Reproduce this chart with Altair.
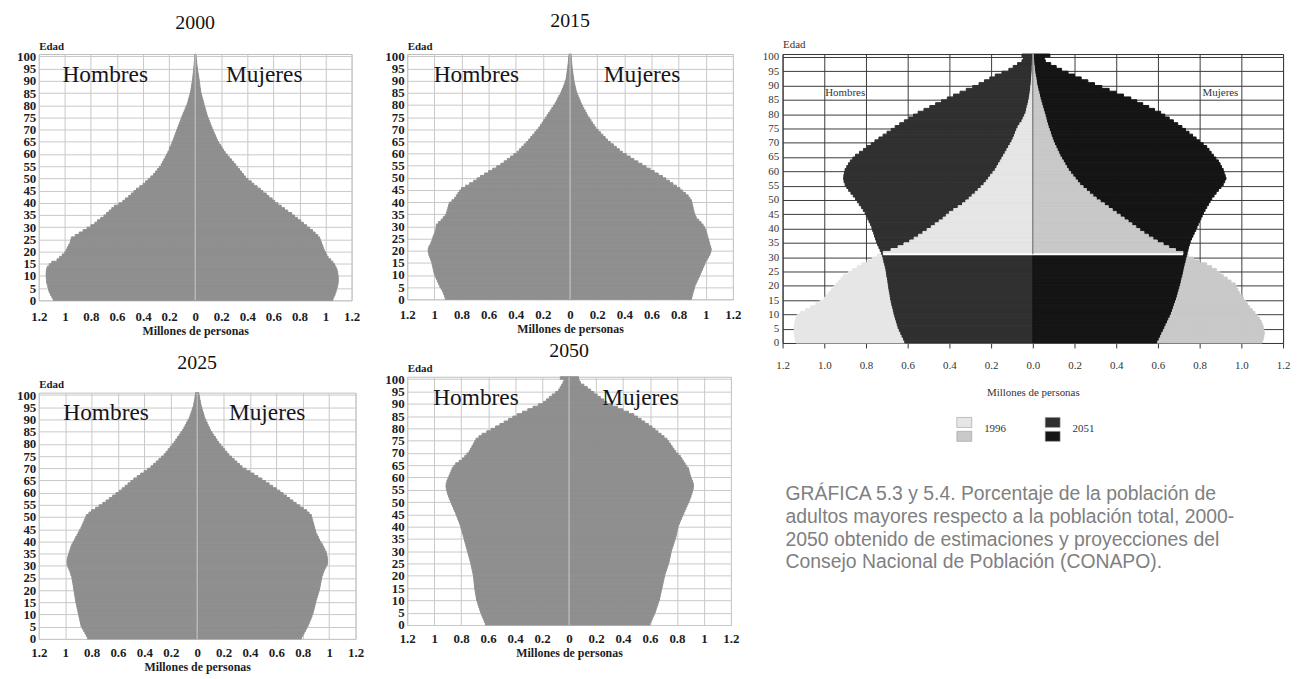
import altair as alt
import pandas as pd

EDADES = list(range(101))

H2000 = [1.09, 1.10, 1.11, 1.12, 1.125, 1.13, 1.135, 1.14, 1.14, 1.143,
         1.143, 1.143, 1.14, 1.135, 1.12, 1.10, 1.06, 1.04, 1.02, 1.00,
         0.99, 0.98, 0.97, 0.96, 0.955, 0.95, 0.92, 0.89, 0.86, 0.83,
         0.80, 0.77, 0.75, 0.725, 0.70, 0.68, 0.66, 0.64, 0.62, 0.585,
         0.555, 0.535, 0.51, 0.49, 0.47, 0.45, 0.425, 0.40, 0.38, 0.36,
         0.34, 0.32, 0.305, 0.29, 0.275, 0.26, 0.25, 0.24, 0.23, 0.22,
         0.21, 0.20, 0.195, 0.185, 0.178, 0.17, 0.163, 0.156, 0.149, 0.142,
         0.135, 0.128, 0.121, 0.114, 0.107, 0.10, 0.092, 0.084, 0.076, 0.068,
         0.06, 0.055, 0.05, 0.045, 0.04, 0.035, 0.032, 0.029, 0.026, 0.023,
         0.02, 0.018, 0.016, 0.014, 0.012, 0.01, 0.008, 0.007, 0.005, 0.004,
         0.003]
M2000 = [1.057, 1.065, 1.073, 1.08, 1.085, 1.09, 1.095, 1.097, 1.098, 1.097,
         1.095, 1.093, 1.088, 1.08, 1.07, 1.057, 1.04, 1.02, 1.01, 1.00,
         0.99, 0.983, 0.976, 0.969, 0.962, 0.955, 0.94, 0.92, 0.90, 0.878,
         0.855, 0.83, 0.81, 0.785, 0.762, 0.74, 0.71, 0.685, 0.66, 0.635,
         0.61, 0.59, 0.565, 0.545, 0.52, 0.50, 0.475, 0.45, 0.43, 0.405,
         0.385, 0.37, 0.355, 0.34, 0.325, 0.31, 0.295, 0.278, 0.262, 0.246,
         0.23, 0.218, 0.206, 0.194, 0.182, 0.17, 0.162, 0.154, 0.146, 0.138,
         0.13, 0.122, 0.115, 0.108, 0.10, 0.093, 0.088, 0.083, 0.077, 0.072,
         0.067, 0.062, 0.057, 0.052, 0.047, 0.042, 0.04, 0.037, 0.035, 0.032,
         0.03, 0.027, 0.024, 0.021, 0.018, 0.016, 0.013, 0.011, 0.009, 0.007,
         0.005]

H2015 = [0.92, 0.925, 0.932, 0.94, 0.95, 0.96, 0.968, 0.976, 0.984, 0.992,
         1.0, 1.004, 1.008, 1.012, 1.016, 1.02, 1.027, 1.034, 1.04, 1.044,
         1.045, 1.04, 1.03, 1.023, 1.016, 1.01, 1.003, 0.996, 0.99, 0.987,
         0.985, 0.97, 0.95, 0.935, 0.92, 0.91, 0.905, 0.90, 0.895, 0.89,
         0.87, 0.85, 0.838, 0.826, 0.813, 0.80, 0.77, 0.74, 0.71, 0.685,
         0.66, 0.63, 0.60, 0.57, 0.54, 0.51, 0.486, 0.462, 0.438, 0.414,
         0.39, 0.373, 0.356, 0.339, 0.322, 0.305, 0.29, 0.275, 0.26, 0.245,
         0.23, 0.218, 0.206, 0.194, 0.182, 0.17, 0.158, 0.146, 0.134, 0.122,
         0.11, 0.10, 0.091, 0.082, 0.072, 0.063, 0.056, 0.049, 0.042, 0.036,
         0.03, 0.027, 0.024, 0.022, 0.019, 0.017, 0.015, 0.013, 0.011, 0.01,
         0.008]
M2015 = [0.895, 0.90, 0.905, 0.91, 0.915, 0.92, 0.928, 0.936, 0.944, 0.952,
         0.96, 0.968, 0.976, 0.984, 0.992, 1.0, 1.01, 1.02, 1.03, 1.036,
         1.04, 1.036, 1.03, 1.025, 1.02, 1.015, 1.01, 1.005, 1.0, 0.99,
         0.98, 0.965, 0.948, 0.93, 0.922, 0.915, 0.911, 0.907, 0.903, 0.899,
         0.895, 0.883, 0.87, 0.85, 0.83, 0.81, 0.784, 0.758, 0.732, 0.706,
         0.68, 0.65, 0.62, 0.59, 0.56, 0.53, 0.50, 0.47, 0.443, 0.414,
         0.385, 0.363, 0.341, 0.319, 0.297, 0.276, 0.259, 0.242, 0.224, 0.207,
         0.19, 0.178, 0.166, 0.154, 0.142, 0.13, 0.12, 0.111, 0.101, 0.092,
         0.082, 0.075, 0.068, 0.06, 0.053, 0.046, 0.042, 0.038, 0.034, 0.03,
         0.027, 0.025, 0.022, 0.02, 0.017, 0.015, 0.013, 0.012, 0.01, 0.009,
         0.008]

H2025 = [0.83, 0.84, 0.85, 0.86, 0.87, 0.88, 0.884, 0.888, 0.892, 0.896,
         0.90, 0.904, 0.908, 0.912, 0.916, 0.92, 0.923, 0.926, 0.929, 0.932,
         0.935, 0.938, 0.941, 0.944, 0.947, 0.95, 0.957, 0.963, 0.97, 0.978,
         0.985, 0.986, 0.985, 0.98, 0.975, 0.97, 0.963, 0.957, 0.95, 0.94,
         0.93, 0.92, 0.91, 0.90, 0.89, 0.88, 0.872, 0.864, 0.856, 0.848,
         0.84, 0.82, 0.80, 0.77, 0.743, 0.715, 0.69, 0.665, 0.64, 0.615,
         0.59, 0.568, 0.546, 0.524, 0.502, 0.48, 0.454, 0.428, 0.402, 0.376,
         0.35, 0.33, 0.31, 0.29, 0.27, 0.25, 0.235, 0.22, 0.205, 0.19,
         0.175, 0.162, 0.149, 0.136, 0.123, 0.11, 0.10, 0.09, 0.08, 0.07,
         0.06, 0.053, 0.047, 0.04, 0.034, 0.028, 0.025, 0.021, 0.018, 0.015,
         0.012]
M2025 = [0.79, 0.80, 0.81, 0.82, 0.83, 0.84, 0.848, 0.855, 0.863, 0.87,
         0.877, 0.882, 0.886, 0.891, 0.895, 0.90, 0.905, 0.911, 0.916, 0.922,
         0.927, 0.931, 0.934, 0.938, 0.941, 0.945, 0.952, 0.958, 0.965, 0.975,
         0.985, 0.988, 0.988, 0.985, 0.981, 0.977, 0.968, 0.959, 0.95, 0.938,
         0.927, 0.918, 0.909, 0.90, 0.895, 0.89, 0.885, 0.88, 0.875, 0.87,
         0.865, 0.848, 0.83, 0.803, 0.777, 0.75, 0.725, 0.70, 0.676, 0.651,
         0.627, 0.60, 0.572, 0.545, 0.517, 0.49, 0.46, 0.43, 0.40, 0.37,
         0.34, 0.32, 0.30, 0.28, 0.26, 0.24, 0.225, 0.209, 0.194, 0.178,
         0.163, 0.15, 0.138, 0.125, 0.113, 0.10, 0.092, 0.083, 0.075, 0.066,
         0.058, 0.052, 0.047, 0.041, 0.036, 0.03, 0.026, 0.023, 0.019, 0.016,
         0.012]

H2050 = [0.62, 0.628, 0.635, 0.643, 0.65, 0.657, 0.663, 0.669, 0.675, 0.68,
         0.686, 0.689, 0.692, 0.695, 0.698, 0.70, 0.702, 0.704, 0.706, 0.708,
         0.71, 0.714, 0.718, 0.722, 0.726, 0.73, 0.735, 0.74, 0.745, 0.75,
         0.755, 0.76, 0.765, 0.77, 0.775, 0.78, 0.785, 0.79, 0.795, 0.80,
         0.805, 0.812, 0.819, 0.826, 0.833, 0.84, 0.848, 0.856, 0.864, 0.872,
         0.88, 0.887, 0.894, 0.90, 0.905, 0.91, 0.912, 0.91, 0.905, 0.898,
         0.89, 0.882, 0.875, 0.867, 0.855, 0.84, 0.815, 0.79, 0.773, 0.757,
         0.74, 0.73, 0.72, 0.71, 0.70, 0.69, 0.668, 0.645, 0.61, 0.578,
         0.545, 0.513, 0.481, 0.449, 0.417, 0.385, 0.345, 0.306, 0.267, 0.228,
         0.19, 0.168, 0.146, 0.125, 0.10, 0.077, 0.066, 0.055, 0.045, 0.038,
         0.065]
M2050 = [0.60, 0.608, 0.616, 0.624, 0.632, 0.64, 0.646, 0.652, 0.658, 0.664,
         0.67, 0.674, 0.678, 0.682, 0.686, 0.69, 0.694, 0.698, 0.702, 0.706,
         0.71, 0.716, 0.722, 0.728, 0.734, 0.74, 0.744, 0.748, 0.752, 0.756,
         0.76, 0.766, 0.772, 0.778, 0.784, 0.79, 0.794, 0.798, 0.802, 0.806,
         0.81, 0.818, 0.826, 0.834, 0.842, 0.85, 0.858, 0.866, 0.874, 0.882,
         0.89, 0.897, 0.904, 0.91, 0.915, 0.92, 0.922, 0.92, 0.914, 0.907,
         0.90, 0.895, 0.89, 0.886, 0.873, 0.86, 0.848, 0.837, 0.825, 0.808,
         0.79, 0.777, 0.764, 0.752, 0.739, 0.726, 0.704, 0.682, 0.659, 0.637,
         0.615, 0.588, 0.561, 0.534, 0.507, 0.48, 0.44, 0.40, 0.36, 0.32,
         0.28, 0.256, 0.232, 0.208, 0.184, 0.16, 0.135, 0.11, 0.085, 0.075,
         0.07]

H1996 = [1.136, 1.14, 1.142, 1.144, 1.144, 1.144, 1.143, 1.14, 1.136, 1.13,
         1.115, 1.09, 1.065, 1.04, 1.02, 1.0, 0.99, 0.978, 0.966, 0.955,
         0.943, 0.931, 0.919, 0.907, 0.885, 0.864, 0.842, 0.82, 0.795, 0.77,
         0.745, 0.717, 0.68, 0.646, 0.618, 0.59, 0.569, 0.548, 0.527, 0.507,
         0.487, 0.468, 0.449, 0.43, 0.415, 0.40, 0.379, 0.358, 0.337, 0.321,
         0.305, 0.291, 0.276, 0.262, 0.248, 0.234, 0.223, 0.212, 0.202, 0.191,
         0.18, 0.172, 0.164, 0.156, 0.148, 0.14, 0.132, 0.124, 0.116, 0.108,
         0.10, 0.094, 0.088, 0.083, 0.077, 0.071, 0.062, 0.052, 0.046, 0.039,
         0.033, 0.03, 0.027, 0.023, 0.02, 0.017, 0.015, 0.013, 0.011, 0.01,
         0.008, 0.007, 0.006, 0.005, 0.004, 0.003, 0.003, 0.002, 0.002, 0.001,
         0.001]
M1996 = [1.10, 1.105, 1.108, 1.11, 1.108, 1.105, 1.10, 1.095, 1.087, 1.076,
         1.065, 1.052, 1.04, 1.03, 1.02, 1.01, 1.0, 0.99, 0.983, 0.977,
         0.97, 0.95, 0.932, 0.913, 0.897, 0.88, 0.857, 0.834, 0.80, 0.77,
         0.745, 0.72, 0.684, 0.652, 0.625, 0.597, 0.576, 0.554, 0.533, 0.513,
         0.494, 0.475, 0.457, 0.438, 0.419, 0.40, 0.381, 0.362, 0.343, 0.323,
         0.304, 0.288, 0.272, 0.257, 0.241, 0.225, 0.214, 0.203, 0.192, 0.181,
         0.17, 0.162, 0.154, 0.146, 0.138, 0.13, 0.124, 0.117, 0.111, 0.104,
         0.098, 0.093, 0.088, 0.084, 0.079, 0.074, 0.07, 0.066, 0.063, 0.059,
         0.055, 0.051, 0.047, 0.043, 0.039, 0.035, 0.032, 0.029, 0.025, 0.022,
         0.019, 0.017, 0.015, 0.012, 0.01, 0.008, 0.007, 0.005, 0.004, 0.003,
         0.002]

H2051 = [0.614, 0.62, 0.627, 0.633, 0.64, 0.646, 0.65, 0.654, 0.658, 0.662,
         0.666, 0.669, 0.672, 0.676, 0.679, 0.682, 0.684, 0.686, 0.689, 0.691,
         0.693, 0.695, 0.697, 0.70, 0.702, 0.704, 0.707, 0.71, 0.714, 0.717,
         0.72, 0.726, 0.732, 0.738, 0.744, 0.75, 0.754, 0.759, 0.763, 0.768,
         0.772, 0.778, 0.785, 0.791, 0.798, 0.804, 0.813, 0.822, 0.832, 0.841,
         0.85, 0.861, 0.872, 0.883, 0.892, 0.90, 0.905, 0.907, 0.906, 0.903,
         0.90, 0.892, 0.884, 0.875, 0.863, 0.85, 0.831, 0.812, 0.794, 0.775,
         0.757, 0.738, 0.718, 0.699, 0.679, 0.66, 0.638, 0.616, 0.594, 0.572,
         0.55, 0.522, 0.494, 0.466, 0.438, 0.41, 0.38, 0.349, 0.319, 0.288,
         0.258, 0.232, 0.206, 0.18, 0.148, 0.115, 0.094, 0.073, 0.052, 0.045,
         0.052]
M2051 = [0.594, 0.601, 0.608, 0.614, 0.621, 0.628, 0.634, 0.641, 0.647, 0.654,
         0.66, 0.665, 0.67, 0.674, 0.679, 0.684, 0.688, 0.692, 0.696, 0.70,
         0.704, 0.707, 0.71, 0.714, 0.717, 0.72, 0.723, 0.726, 0.73, 0.733,
         0.736, 0.74, 0.744, 0.747, 0.751, 0.755, 0.761, 0.768, 0.774, 0.781,
         0.787, 0.793, 0.799, 0.806, 0.812, 0.818, 0.826, 0.834, 0.842, 0.85,
         0.858, 0.869, 0.879, 0.89, 0.902, 0.913, 0.92, 0.926, 0.922, 0.917,
         0.913, 0.905, 0.898, 0.89, 0.878, 0.866, 0.855, 0.845, 0.834, 0.817,
         0.80, 0.783, 0.766, 0.749, 0.732, 0.715, 0.695, 0.674, 0.654, 0.633,
         0.613, 0.584, 0.556, 0.527, 0.499, 0.47, 0.435, 0.40, 0.366, 0.331,
         0.296, 0.264, 0.232, 0.20, 0.169, 0.138, 0.112, 0.086, 0.06, 0.055,
         0.082]

EJE_X = [-1.2, -1.0, -0.8, -0.6, -0.4, -0.2, 0.0, 0.2, 0.4, 0.6, 0.8, 1.0, 1.2]
EJE_Y = [0, 5, 10, 15, 20, 25, 30, 35, 40, 45, 50, 55, 60, 65, 70, 75, 80,
         85, 90, 95, 100]

LEYENDA_ANIOS = ["1996", "1996", "2051", "2051"]
LEYENDA_FILAS = [0, 1, 0, 1]
LEYENDA_CLAVES = ["H1996", "M1996", "H2051", "M2051"]
COLORES = ["#e6e6e6", "#c9c9c9", "#303030", "#151515"]

NOTA = ["GRÁFICA 5.3 y 5.4. Porcentaje de la población de",
        "adultos mayores respecto a la población total, 2000-",
        "2050 obtenido de estimaciones y proyecciones del",
        "Consejo Nacional de Población (CONAPO)."]

SERIF = "Liberation Serif"
SANS = "Liberation Sans"
UNO = pd.DataFrame({"k": [0]})
ESC_X = alt.Scale(domain=[-1.2, 1.2], nice=False, zero=False)
ESC_Y = alt.Scale(domain=[0, 101], nice=False, zero=False)


def tabla(hombres, mujeres, clave_h="Hombres", clave_m="Mujeres"):
    return pd.DataFrame({
        "edad": EDADES + EDADES,
        "sexo": [clave_h] * len(EDADES) + [clave_m] * len(EDADES),
        "valor": [-v for v in hombres] + list(mujeres),
    })


def piramide(anio, hombres, mujeres, ancho, alto, t_off, lab_pad):
    eje_x = alt.Axis(values=EJE_X, labelExpr="format(abs(datum.value), '~g')",
                     labelOverlap=False,
                     title="Millones de personas", grid=True, gridColor="#c9c9c9",
                     ticks=False, domain=False, labelFlush=False,
                     labelFont=SERIF, labelFontWeight="bold", labelFontSize=13,
                     labelColor="#1c1c24", labelPadding=lab_pad,
                     titleFont=SERIF, titleFontWeight="bold", titleFontSize=12,
                     titleColor="#1c1c24", titlePadding=2)
    eje_y = alt.Axis(values=EJE_Y, labelOverlap=False, grid=True, gridColor="#c9c9c9",
                     ticks=False, domain=False, labelFlush=False,
                     labelFont=SERIF, labelFontWeight="bold", labelFontSize=13,
                     labelColor="#1c1c24", labelPadding=3,
                     title="Edad", titleAngle=0, titleAlign="left", titleBaseline="bottom",
                     titleX=0, titleY=-3, titleFont=SERIF, titleFontWeight="bold",
                     titleFontSize=11, titleColor="#1c1c24")
    barras = alt.Chart(tabla(hombres, mujeres)).transform_calculate(
        cero="0", edad2="datum.edad + 1"
    ).mark_rect(color="#8f8f8f", stroke="#8f8f8f", strokeWidth=1).encode(
        x=alt.X("valor:Q", scale=ESC_X, axis=eje_x),
        x2="cero:Q",
        y=alt.Y("edad:Q", scale=ESC_Y, axis=eje_y),
        y2="edad2:Q",
    )
    centro = alt.Chart(UNO).mark_rule(color="#c2c2c2", strokeWidth=1.2).encode(
        x=alt.XDatum(0, type="quantitative", scale=ESC_X, axis=eje_x),
        y=alt.YDatum(0, type="quantitative", scale=ESC_Y, axis=eje_y),
        y2=alt.Y2Datum(101))
    t_h = alt.Chart(UNO).mark_text(text="Hombres", font=SERIF, fontSize=23.5, color="#15151c").encode(
        x=alt.XDatum(-0.69, type="quantitative", scale=ESC_X, axis=eje_x),
        y=alt.YDatum(92.5, type="quantitative", scale=ESC_Y, axis=eje_y))
    t_m = alt.Chart(UNO).mark_text(text="Mujeres", font=SERIF, fontSize=23.5, color="#15151c").encode(
        x=alt.XDatum(0.53, type="quantitative", scale=ESC_X, axis=eje_x),
        y=alt.YDatum(92.5, type="quantitative", scale=ESC_Y, axis=eje_y))
    return alt.layer(barras, centro, t_h, t_m).properties(
        width=ancho, height=alto,
        title=alt.TitleParams(text=anio, font=SERIF, fontSize=20, fontWeight="normal",
                              color="#111111", offset=t_off, anchor="middle"),
        view=alt.ViewBackground(stroke="#bdbdbd"),
    )


p2000 = piramide("2000", H2000, M2000, 315, 248, 7, 10)
p2015 = piramide("2015", H2015, M2015, 328, 247, 9, 9)
p2025 = piramide("2025", H2025, M2025, 319, 248, 6, 8)
p2050 = piramide("2050", H2050, M2050, 326, 250, 2, 8)

# Big comparative pyramid 1996 / 2051
d96 = tabla(H1996, M1996, "H1996", "M1996")
d51 = tabla(H2051, M2051, "H2051", "M2051")
color = alt.Color("sexo:N", scale=alt.Scale(domain=LEYENDA_CLAVES, range=COLORES), legend=None)

eje_xg = alt.Axis(values=EJE_X, labelExpr="format(abs(datum.value), '.1f')", labelOverlap=False,
                  title="Millones de personas", grid=True, gridColor="#3a3a3a", gridOpacity=1,
                  ticks=True, tickColor="#333333", tickSize=5, domain=False, labelFlush=False,
                  labelFont=SERIF, labelFontSize=11, labelColor="#333333", labelPadding=12,
                  titleFont=SERIF, titleFontSize=11, titleFontWeight="normal",
                  titleColor="#333333", titlePadding=16)
eje_yg = alt.Axis(values=EJE_Y, labelOverlap=False, grid=True, gridColor="#3a3a3a", gridOpacity=1,
                  ticks=False, domain=False, labelFlush=False,
                  labelFont=SERIF, labelFontSize=11, labelColor="#333333", labelPadding=4,
                  title="Edad", titleAngle=0, titleAlign="left", titleBaseline="bottom",
                  titleX=0, titleY=-5, titleFont=SERIF, titleFontWeight="normal",
                  titleFontSize=11, titleColor="#333333")


def capa(df, filtro=None):
    c = alt.Chart(df).transform_calculate(cero="0", edad2="datum.edad + 1")
    if filtro:
        c = c.transform_filter(filtro)
    return c.mark_rect(strokeWidth=1).encode(
        x=alt.X("valor:Q", scale=ESC_X, axis=eje_xg),
        x2="cero:Q",
        y=alt.Y("edad:Q", scale=ESC_Y, axis=eje_yg),
        y2="edad2:Q",
        color=color,
        stroke=color,
    )


def gx(v):
    return alt.XDatum(v, type="quantitative", scale=ESC_X, axis=eje_xg)


def gy(v):
    return alt.YDatum(v, type="quantitative", scale=ESC_Y, axis=eje_yg)


linea_blanca = alt.Chart(UNO).mark_rule(color="white", strokeWidth=2).encode(
    x=gx(-H1996[31]), x2=alt.X2Datum(M1996[31]), y=gy(31))
eje_central = alt.Chart(UNO).mark_rule(color="#6a6a6a", strokeWidth=1).encode(
    x=gx(0), y=gy(31), y2=alt.Y2Datum(101))
g_h = alt.Chart(UNO).mark_text(text="Hombres", font=SERIF, fontSize=11, color="#333333").encode(
    x=gx(-0.90), y=gy(87.5))
g_m = alt.Chart(UNO).mark_text(text="Mujeres", font=SERIF, fontSize=11, color="#333333").encode(
    x=gx(0.90), y=gy(87.5))

grande = alt.layer(
    capa(d96), capa(d51), capa(d96, "datum.edad > 30"), linea_blanca, eje_central, g_h, g_m
).properties(
    width=504, height=291,
    view=alt.ViewBackground(stroke="#333333"),
)

ley = pd.DataFrame({"anio": LEYENDA_ANIOS, "fila": LEYENDA_FILAS, "sexo": LEYENDA_CLAVES})
ESC_LX = alt.Scale(domain=[-2.056, 3.056], nice=False, zero=False)
ESC_LY = alt.Scale(domain=[-0.5, 1.5], reverse=True, nice=False, zero=False)
cuadros = alt.Chart(ley).transform_calculate(
    pos="datum.anio == '1996' ? 0 : 1"
).mark_point(
    shape="M-1,-0.67L1,-0.67L1,0.67L-1,0.67Z", filled=True, size=225, opacity=1,
    stroke="#9a9a9a", strokeWidth=0.6
).encode(x=alt.X("pos:Q", scale=ESC_LX, axis=None),
         y=alt.Y("fila:Q", scale=ESC_LY, axis=None), fill=color)
textos = alt.Chart(pd.DataFrame({"anio": ["1996", "2051"]})).transform_calculate(
    pos="datum.anio == '1996' ? 0 : 1"
).mark_text(
    align="left", dx=20, font=SERIF, fontSize=11, color="#333333"
).encode(x=alt.X("pos:Q", scale=ESC_LX, axis=None),
         y=alt.YDatum(0.5, type="quantitative", scale=ESC_LY, axis=None), text="anio:N")

leyenda = alt.layer(cuadros, textos).properties(
    width=455, height=28,
    view=alt.ViewBackground(stroke="transparent"),
    title=alt.TitleParams(text=NOTA, orient="bottom", anchor="start", font=SANS, fontSize=19.5,
                          fontWeight="normal", color="#808080", lineHeight=23, offset=42, dx=3),
)

col1 = alt.vconcat(p2000, p2025, spacing=15)
col2 = alt.vconcat(p2015, p2050, spacing=5)
col3 = alt.vconcat(grande, leyenda, spacing=16)

chart = alt.hconcat(col1, col2, col3, spacing=20).properties(
    padding={"left": 8, "top": 0, "right": 0, "bottom": 0}
).configure(background="white")

chart.save("out.html", embed_options={"renderer": "svg", "actions": False})
